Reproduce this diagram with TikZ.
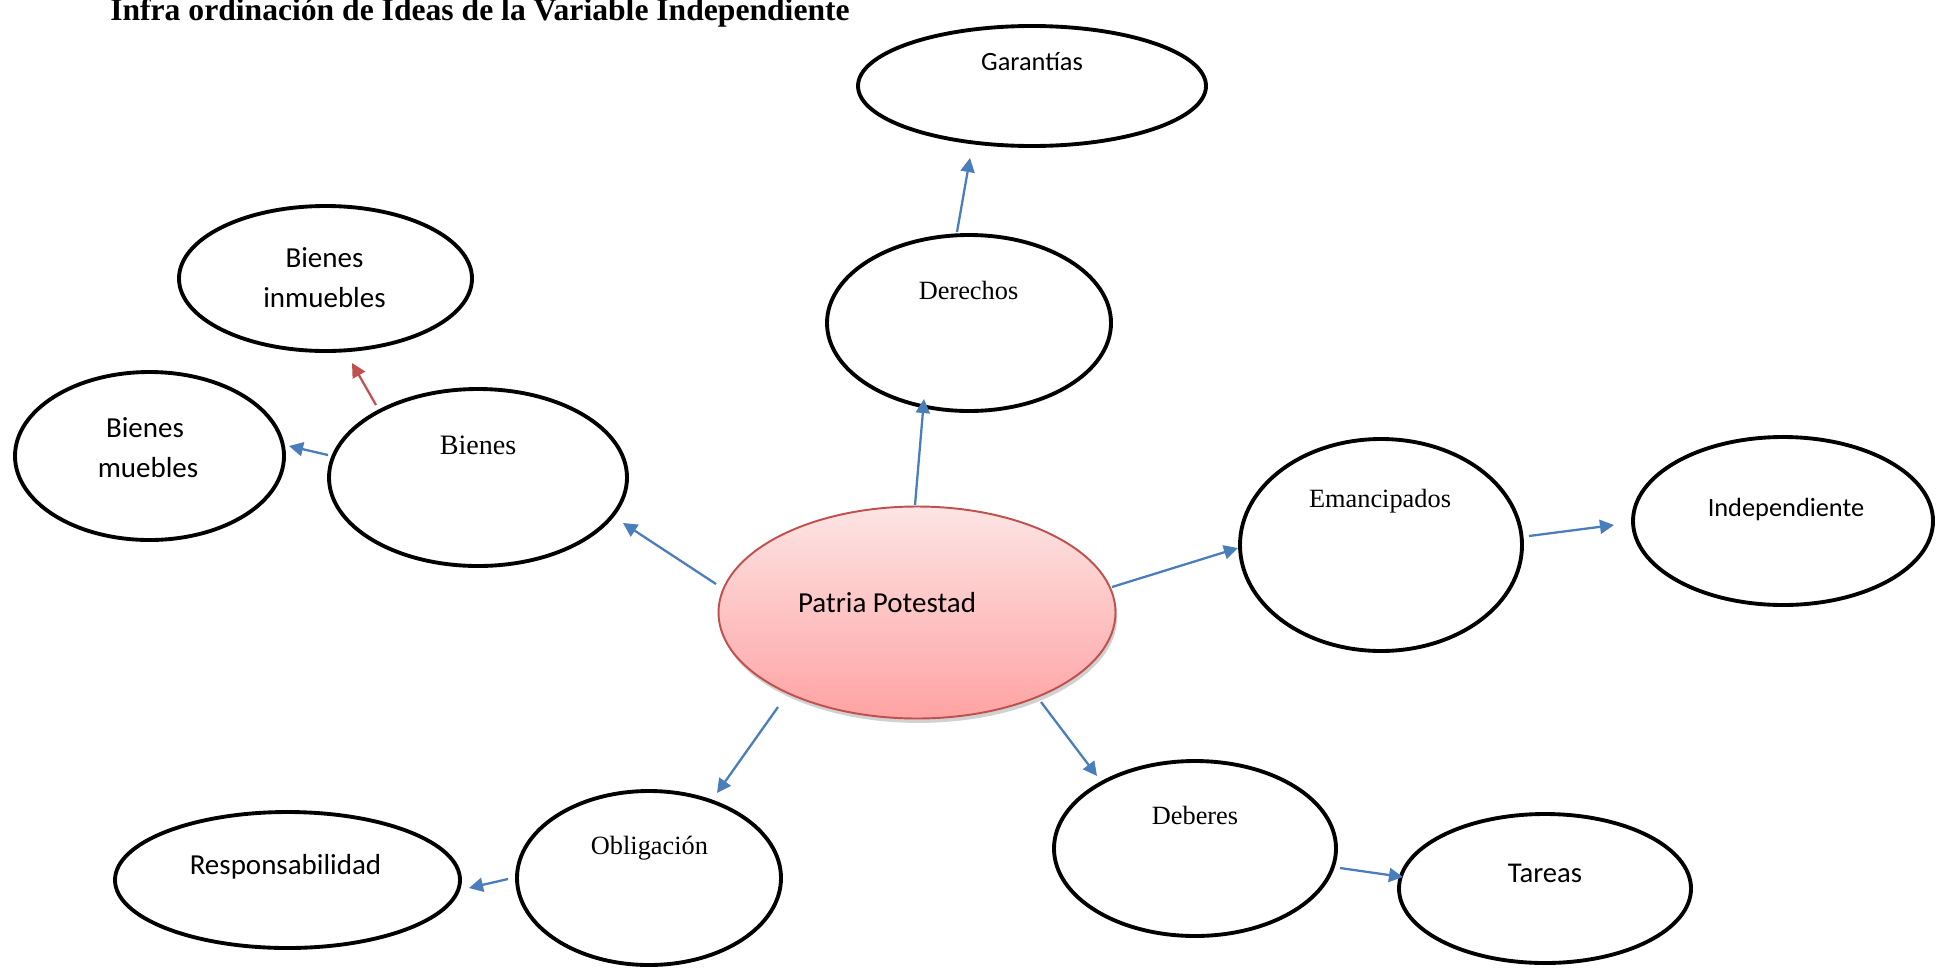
\documentclass[tikz,border=0pt]{standalone}
\usepackage{fontspec}
\setmainfont{Liberation Serif}
\newfontfamily\calfont{Carlito}
\usetikzlibrary{shapes.geometric,arrows.meta,calc,shadows}
\definecolor{arrblue}{HTML}{4A7EBB}
\definecolor{arrred}{HTML}{C0504D}
\definecolor{pptop}{HTML}{FDE4E4}
\definecolor{ppbot}{HTML}{FFA3A3}
\definecolor{ppline}{HTML}{C0504D}
\begin{document}
\begin{tikzpicture}[x=0.02cm, y=-0.02cm,
  oval/.style 2 args={ellipse, draw=black, line width=2.2pt, fill=white, inner sep=0pt,
    minimum width={#1*0.02cm}, minimum height={#2*0.02cm}},
  caltext/.style={inner sep=0pt, anchor=base, font=\calfont\fontsize{#1}{#1}\selectfont},
  sertext/.style={inner sep=0pt, anchor=base, font=\fontsize{#1}{#1}\selectfont},
  arr/.style={draw=arrblue, line width=1.3pt, -{Triangle[length=8pt,width=8pt]}},
  arrr/.style={draw=arrred, line width=1.3pt, -{Triangle[length=8pt,width=8pt]}}
]
\useasboundingbox (0,0) rectangle (1936,967);
\fill[white] (0,0) rectangle (1936,967);

% title (partly cut by the page top)
\node[inner sep=0pt, anchor=base, font=\bfseries\fontsize{18}{20}\selectfont] (title) at (480,20)
  {Infra ordinación de Ideas de la Variable Independiente};

% ellipses
\node[oval={348}{120}] (gar) at (1032,86) {};
\node[oval={293}{145}] (binm) at (325.5,278.5) {};
\node[oval={269}{168}] (bm) at (149.5,456) {};
\node[oval={298}{177}] (bienes) at (478,477.5) {};
\node[oval={284}{176}] (der) at (969,323) {};
\node[ellipse, draw=ppline, line width=1.1pt, top color=pptop, bottom color=ppbot,
  inner sep=0pt, minimum width={397*0.02cm}, minimum height={212*0.02cm},
  drop shadow={opacity=0.18, shadow xshift=1pt, shadow yshift=-2.5pt, fill=black}] (pp) at (917,612.5) {};
\node[oval={282}{212}] (eman) at (1381,545) {};
\node[oval={300}{168}] (indep) at (1783,521) {};
\node[oval={264}{174}] (obl) at (649,878) {};
\node[oval={345}{136}] (resp) at (287.5,880) {};
\node[oval={282}{175}] (deb) at (1195,848.5) {};
\node[oval={292}{149}] (tar) at (1545,888.5) {};

% texts
\node[caltext=15] (tgar) at (1032,70) {Garantías};
\node[caltext=16.5] (tbinm1) at (324.5,267) {Bienes};
\node[caltext=16.5] (tbinm2) at (324.5,307) {inmuebles};
\node[caltext=16.5] (tbm1) at (145,437) {Bienes};
\node[caltext=16.5] (tbm2) at (148,477) {muebles};
\node[sertext=16] (tbienes) at (478,454) {Bienes};
\node[sertext=15] (tder) at (968.5,299) {Derechos};
\node[caltext=16.5] (tpp) at (887,612) {Patria Potestad};
\node[sertext=15] (teman) at (1380,507) {Emancipados};
\node[caltext=15] (tindep) at (1786,516) {Independiente};
\node[sertext=15] (tobl) at (649.5,854) {Obligación};
\node[caltext=16.5] (tresp) at (285.5,874) {Responsabilidad};
\node[sertext=15] (tdeb) at (1195,824) {Deberes};
\node[caltext=16.3] (ttar) at (1545,882) {Tareas};

% connectors
\draw[arr] ($(pp)+(-201,-28.5)$) -- ($(bienes)+(145,45.5)$);
\draw[arr] ($(bienes)+(-150,-22.5)$) -- ($(bm)+(139.5,-10)$);
\draw[arrr] ($(bienes)+(-102,-72.5)$) -- ($(binm)+(26.5,84.5)$);
\draw[arr] ($(pp)+(-2,-107.5)$) -- ($(der)+(-45,76)$);
\draw[arr] ($(der)+(-12,-91)$) -- ($(gar)+(-62,72)$);
\draw[arr] ($(pp)+(195,-25.5)$) -- ($(eman)+(-143,3)$);
\draw[arr] ($(eman)+(148,-9)$) -- ($(indep)+(-169,4)$);
\draw[arr] ($(pp)+(-139,94.5)$) -- ($(obl)+(68,-85)$);
\draw[arr] ($(obl)+(-141,1)$) -- ($(resp)+(181.5,8)$);
\draw[arr] ($(pp)+(124,89.5)$) -- ($(deb)+(-98,-72.5)$);
\draw[arr] ($(deb)+(145,19.5)$) -- ($(tar)+(-142,-11.5)$);
\end{tikzpicture}
\end{document}
